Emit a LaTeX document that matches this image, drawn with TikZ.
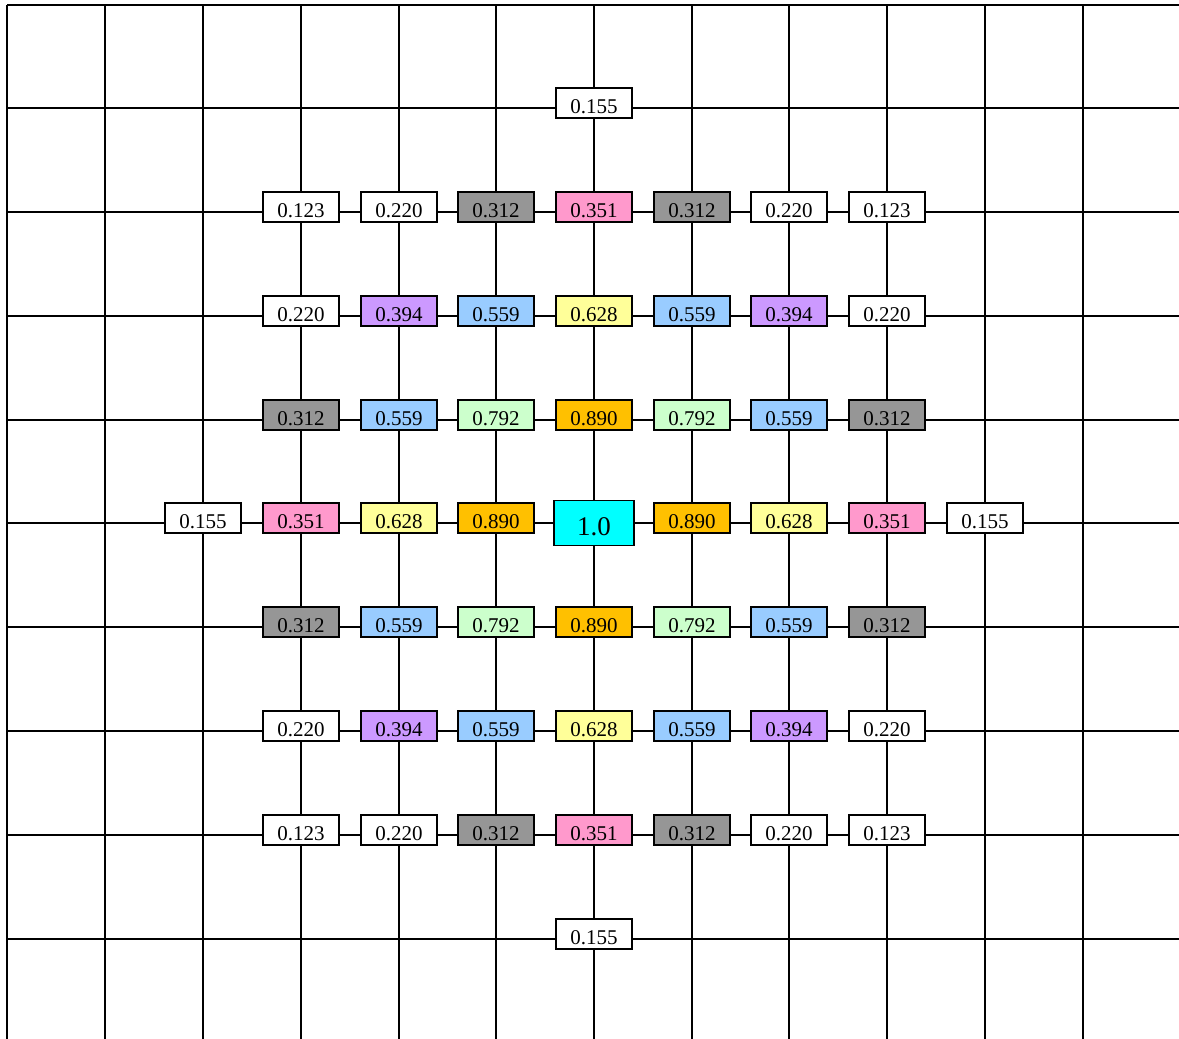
\documentclass[tikz,border=0pt]{standalone}
\usepackage{fontspec}
\setmainfont{Liberation Serif}
\definecolor{cgray}{HTML}{969696}
\definecolor{cpink}{HTML}{FF99CC}
\definecolor{cpurple}{HTML}{CC99FF}
\definecolor{cblue}{HTML}{99CCFF}
\definecolor{cyellow}{HTML}{FFFF99}
\definecolor{cgreen}{HTML}{CCFFCC}
\definecolor{corange}{HTML}{FFC000}
\definecolor{ccyan}{HTML}{00FFFF}
\begin{document}
\begin{tikzpicture}[x=1pt,y=-1pt,
  gridline/.style={line width=2pt, black},
  cell/.style={draw=black, line width=1.5pt, minimum width=76pt, text height=25pt, text depth=5pt, inner sep=0pt, anchor=base, yshift=-5pt, font=\fontsize{21}{22}\selectfont},
  bigcell/.style={cell, minimum width=80pt, text height=35pt, text depth=10pt, yshift=-7.7pt, font=\fontsize{27}{28}\selectfont}]
\useasboundingbox (0,0) rectangle (1179,1039);
% grid
\foreach \x [count=\i from 0] in {7,105,203,301,399,496,594,692,789,887,985,1083} {
  \coordinate (X\i) at (\x,5);
  \coordinate (vb\i) at (\x,1039);
  \draw[gridline] (X\i) -- (vb\i);
}
\foreach \y [count=\j from 0] in {5,108,212,316,420,523,627,731,835,939} {
  \coordinate (Y\j) at (7,\y);
  \coordinate (hr\j) at (1179,\y);
  \draw[gridline] (Y\j) -- (hr\j);
}
% cells
\foreach \c/\r/\v/\col in {
  6/1/0.155/white,
  3/2/0.123/white, 4/2/0.220/white, 5/2/0.312/cgray, 6/2/0.351/cpink, 7/2/0.312/cgray, 8/2/0.220/white, 9/2/0.123/white,
  3/3/0.220/white, 4/3/0.394/cpurple, 5/3/0.559/cblue, 6/3/0.628/cyellow, 7/3/0.559/cblue, 8/3/0.394/cpurple, 9/3/0.220/white,
  3/4/0.312/cgray, 4/4/0.559/cblue, 5/4/0.792/cgreen, 6/4/0.890/corange, 7/4/0.792/cgreen, 8/4/0.559/cblue, 9/4/0.312/cgray,
  2/5/0.155/white, 3/5/0.351/cpink, 4/5/0.628/cyellow, 5/5/0.890/corange, 7/5/0.890/corange, 8/5/0.628/cyellow, 9/5/0.351/cpink, 10/5/0.155/white,
  3/6/0.312/cgray, 4/6/0.559/cblue, 5/6/0.792/cgreen, 6/6/0.890/corange, 7/6/0.792/cgreen, 8/6/0.559/cblue, 9/6/0.312/cgray,
  3/7/0.220/white, 4/7/0.394/cpurple, 5/7/0.559/cblue, 6/7/0.628/cyellow, 7/7/0.559/cblue, 8/7/0.394/cpurple, 9/7/0.220/white,
  3/8/0.123/white, 4/8/0.220/white, 5/8/0.312/cgray, 6/8/0.351/cpink, 7/8/0.312/cgray, 8/8/0.220/white, 9/8/0.123/white,
  6/9/0.155/white} {
  \node[cell, fill=\col] (n\c-\r) at (X\c |- Y\r) {\v};
}
\node[bigcell, fill=ccyan] (n6-5) at (X6 |- Y5) {1.0};
\end{tikzpicture}
\end{document}
